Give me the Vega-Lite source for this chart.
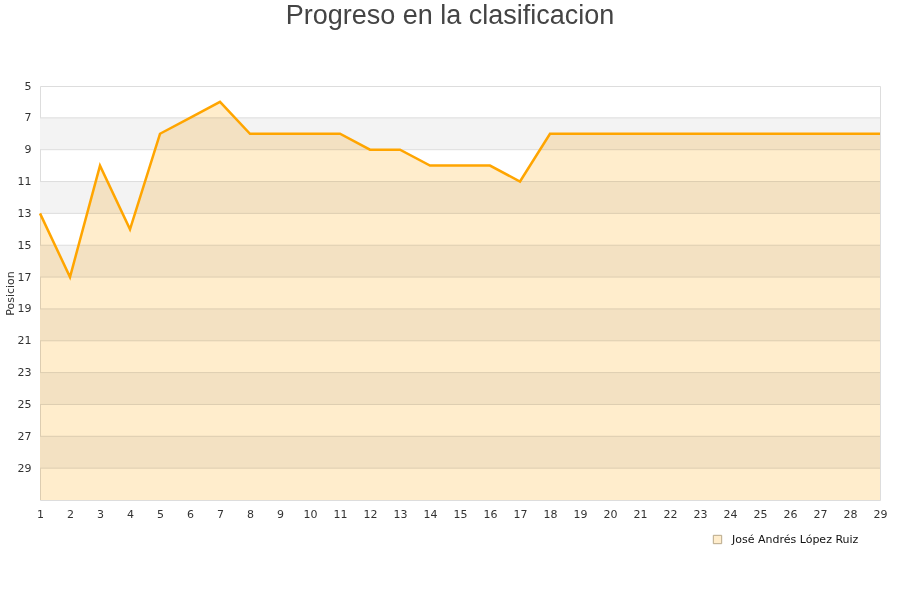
{
  "$schema": "https://vega.github.io/schema/vega-lite/v6.json",
  "width": 840,
  "height": 414,
  "autosize": {"type": "none"},
  "padding": {"left": 40, "top": 86, "right": 20, "bottom": 100},
  "background": "white",
  "title": {
    "text": "Progreso en la clasificacion",
    "font": "Liberation Sans",
    "fontSize": 27,
    "fontWeight": "normal",
    "color": "#444444",
    "anchor": "middle",
    "dx": -10,
    "offset": 50
  },
  "config": {
    "view": {"stroke": "#dddddd", "strokeWidth": 1},
    "axis": {"labelFont": "DejaVu Sans", "labelFontSize": 11, "labelColor": "#333333", "titleFont": "DejaVu Sans", "labelOverlap": false, "labelSeparation": 0},
    "axisX": {"labelOverlap": false, "grid": false, "ticks": false, "domain": false, "labelPadding": 8, "title": null, "labelFlush": false},
    "axisY": {"labelOverlap": false, "grid": false, "ticks": false, "domain": false, "labelPadding": 9, "titleFontSize": 11, "titleFontWeight": "normal", "titleColor": "#333333", "titlePadding": 2}
  },
  "datasets": {
    "posiciones": [
      {"jornada": 1, "pos": 13, "jugador": "José Andrés López Ruiz"},
      {"jornada": 2, "pos": 17, "jugador": "José Andrés López Ruiz"},
      {"jornada": 3, "pos": 10, "jugador": "José Andrés López Ruiz"},
      {"jornada": 4, "pos": 14, "jugador": "José Andrés López Ruiz"},
      {"jornada": 5, "pos": 8, "jugador": "José Andrés López Ruiz"},
      {"jornada": 6, "pos": 7, "jugador": "José Andrés López Ruiz"},
      {"jornada": 7, "pos": 6, "jugador": "José Andrés López Ruiz"},
      {"jornada": 8, "pos": 8, "jugador": "José Andrés López Ruiz"},
      {"jornada": 9, "pos": 8, "jugador": "José Andrés López Ruiz"},
      {"jornada": 10, "pos": 8, "jugador": "José Andrés López Ruiz"},
      {"jornada": 11, "pos": 8, "jugador": "José Andrés López Ruiz"},
      {"jornada": 12, "pos": 9, "jugador": "José Andrés López Ruiz"},
      {"jornada": 13, "pos": 9, "jugador": "José Andrés López Ruiz"},
      {"jornada": 14, "pos": 10, "jugador": "José Andrés López Ruiz"},
      {"jornada": 15, "pos": 10, "jugador": "José Andrés López Ruiz"},
      {"jornada": 16, "pos": 10, "jugador": "José Andrés López Ruiz"},
      {"jornada": 17, "pos": 11, "jugador": "José Andrés López Ruiz"},
      {"jornada": 18, "pos": 8, "jugador": "José Andrés López Ruiz"},
      {"jornada": 19, "pos": 8, "jugador": "José Andrés López Ruiz"},
      {"jornada": 20, "pos": 8, "jugador": "José Andrés López Ruiz"},
      {"jornada": 21, "pos": 8, "jugador": "José Andrés López Ruiz"},
      {"jornada": 22, "pos": 8, "jugador": "José Andrés López Ruiz"},
      {"jornada": 23, "pos": 8, "jugador": "José Andrés López Ruiz"},
      {"jornada": 24, "pos": 8, "jugador": "José Andrés López Ruiz"},
      {"jornada": 25, "pos": 8, "jugador": "José Andrés López Ruiz"},
      {"jornada": 26, "pos": 8, "jugador": "José Andrés López Ruiz"},
      {"jornada": 27, "pos": 8, "jugador": "José Andrés López Ruiz"},
      {"jornada": 28, "pos": 8, "jugador": "José Andrés López Ruiz"},
      {"jornada": 29, "pos": 8, "jugador": "José Andrés López Ruiz"}
    ],
    "bandas": [
      {"desde": 7, "hasta": 9},
      {"desde": 11, "hasta": 13},
      {"desde": 15, "hasta": 17},
      {"desde": 19, "hasta": 21},
      {"desde": 23, "hasta": 25},
      {"desde": 27, "hasta": 29}
    ],
    "lineas": [
      {"y": 7}, {"y": 9}, {"y": 11}, {"y": 13}, {"y": 15}, {"y": 17}, {"y": 19},
      {"y": 21}, {"y": 23}, {"y": 25}, {"y": 27}, {"y": 29}
    ]
  },
  "layer": [
    {
      "data": {"name": "bandas"},
      "mark": {"type": "rect", "color": "#f3f3f3"},
      "encoding": {
        "y": {"field": "desde", "type": "quantitative", "scale": {"domain": [5, 31], "reverse": true, "zero": false, "nice": false}, "title": "Posicion",
              "axis": {"values": [5, 7, 9, 11, 13, 15, 17, 19, 21, 23, 25, 27, 29], "tickCount": 40, "format": "d"}},
        "y2": {"field": "hasta"}
      }
    },
    {
      "data": {"name": "lineas"},
      "mark": {"type": "rule", "color": "#dddddd", "strokeWidth": 1},
      "encoding": {
        "y": {"field": "y", "type": "quantitative", "title": "Posicion",
              "axis": {"values": [5, 7, 9, 11, 13, 15, 17, 19, 21, 23, 25, 27, 29], "tickCount": 40, "format": "d"}}
      }
    },
    {
      "data": {"name": "posiciones"},
      "mark": {"type": "area", "blend": "multiply", "opacity": 1},
      "encoding": {
        "x": {"field": "jornada", "type": "quantitative", "scale": {"domain": [1, 29], "nice": false, "zero": false},
              "axis": {"values": [1,2,3,4,5,6,7,8,9,10,11,12,13,14,15,16,17,18,19,20,21,22,23,24,25,26,27,28,29], "tickCount": 40, "format": "d"}},
        "y": {"field": "pos", "type": "quantitative", "title": "Posicion",
              "axis": {"values": [5, 7, 9, 11, 13, 15, 17, 19, 21, 23, 25, 27, 29], "tickCount": 40, "format": "d"}},
        "y2": {"datum": 31},
        "color": {"field": "jugador", "type": "nominal", "scale": {"range": ["#FFEDCC"]},
                  "legend": {"title": null, "orient": "none", "legendX": 672, "legendY": 448, "symbolType": "square", "symbolSize": 70, "labelOffset": 9, "labelFont": "DejaVu Sans", "labelFontSize": 11, "labelColor": "#111111",
                             "symbolStrokeColor": "#b8a98a", "symbolStrokeWidth": 1,
                             "encode": {"symbols": {"update": {"stroke": {"value": "#b8a98a"}, "strokeWidth": {"value": 1}}}}}}
      }
    },
    {
      "data": {"name": "posiciones"},
      "mark": {"type": "line", "color": "#FFA500", "strokeWidth": 2.5},
      "encoding": {
        "x": {"field": "jornada", "type": "quantitative",
              "axis": {"values": [1,2,3,4,5,6,7,8,9,10,11,12,13,14,15,16,17,18,19,20,21,22,23,24,25,26,27,28,29], "tickCount": 40, "format": "d"}},
        "y": {"field": "pos", "type": "quantitative", "title": "Posicion",
              "axis": {"values": [5, 7, 9, 11, 13, 15, 17, 19, 21, 23, 25, 27, 29], "tickCount": 40, "format": "d"}}
      }
    }
  ]
}
